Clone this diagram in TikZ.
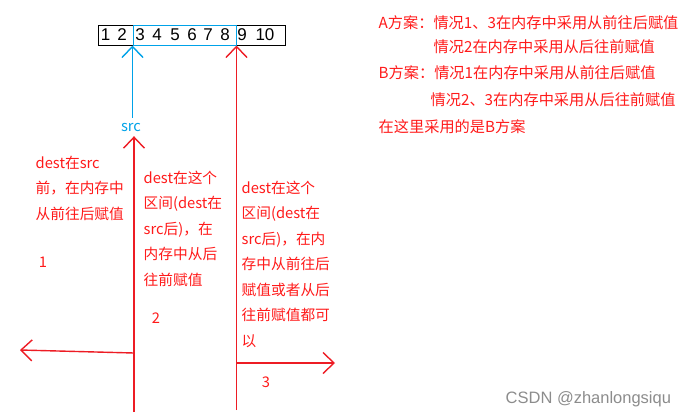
\documentclass[tikz,border=0pt]{standalone}
\usepackage{fontspec}
\setmainfont{Noto Sans CJK SC}
\newfontfamily\digitfont{Liberation Sans}
\usetikzlibrary{arrows.meta}
\definecolor{paintred}{HTML}{ED1C24}
\definecolor{paintblue}{HTML}{00A2E8}
\definecolor{notered}{HTML}{FF1A1A}
\definecolor{markgray}{HTML}{8C8C8C}

\begin{document}
\begin{tikzpicture}[x=1pt,y=-1pt,>={Straight Barb[length=11pt,width=21pt]},line width=1.4pt]

    \tikzstyle{cell}=[inner sep=0pt,font=\digitfont\fontsize{17}{17}\selectfont]
    \tikzstyle{frame}=[draw=black,line width=1pt,minimum width=187pt,minimum height=20pt,inner sep=0pt]
    \tikzstyle{window}=[draw=paintblue,line width=1pt,minimum width=103pt,minimum height=20pt,inner sep=0pt]
    \tikzstyle{note}=[anchor=north west,align=left,inner sep=0pt,text=notered,font=\fontsize{14.7}{25.5}\selectfont]
    \tikzstyle{plan}=[anchor=west,inner sep=0pt,text=notered,font=\fontsize{15.2}{25.5}\selectfont]
    \tikzstyle{casenum}=[inner sep=0pt,text=notered,font=\fontsize{14.7}{14.7}\selectfont]
    \tikzstyle{redline}=[draw=paintred]
    \tikzstyle{blueline}=[draw=paintblue]

    \useasboundingbox (0,0) rectangle (689,418);

    % the array 1..10, with the src window 3..8
    \node [frame] (arr) at (191.5,35) {};
    \node [window] (win) at (184.5,35) {};
    \foreach \x/\n in {105.7/1,122/2,140/3,157/4,175/5,192/6,208/7,225/8,242/9,265/10}
        \node [cell] (c\n) at (\x,35) {\n};

    \node [casenum,text=paintblue,outer sep=5pt] (src) at (131,127) {src};
    \draw [blueline,->] (win.south west |- src.north) -- (win.south west);

    % the two borders of the cases
    \coordinate (foot2) at (134,412);
    \coordinate (foot3) at (236.5,410);
    \draw [redline,->] (foot2) -- (foot2 |- src.south);
    \draw [redline,->] (foot3) -- (win.south east);

    \coordinate (fork1) at (134,353);
    \coordinate (end1) at (20,350);
    \coordinate (fork3) at (237,363);
    \coordinate (end3) at (335,363);
    \draw [redline,->] (fork1) -- (end1);
    \draw [redline,->] (fork3) -- (end3);

    % cases
    \node [note] (case1) at (35,155) {dest在src\\前，在内存中\\从前往后赋值};
    \node [casenum] (num1) at (43,262) {1};
    \node [note] (case2) at (143,170) {dest在这个\\区间(dest在\\src后)，在\\内存中从后\\往前赋值};
    \node [casenum] (num2) at (156,318) {2};
    \node [note] (case3) at (241,180) {dest在这个\\区间(dest在\\src后)，在内\\存中从前往后\\赋值或者从后\\往前赋值都可\\以};
    \node [casenum] (num3) at (266,382) {3};

    % plans
    \node [plan] (planA) at (378,23) {A方案：情况1、3在内存中采用从前往后赋值};
    \node [plan] (planAb) at (433,47) {情况2在内存中采用从后往前赋值};
    \node [plan] (planB) at (378,73) {B方案：情况1在内存中采用从前往后赋值};
    \node [plan] (planBb) at (430,100) {情况2、3在内存中采用从后往前赋值};
    \node [plan] (choice) at (378,127) {在这里采用的是B方案};

    \node [anchor=west,inner sep=0pt,text=markgray,font=\digitfont\fontsize{16.5}{16.5}\selectfont] (mark) at (505,399) {CSDN @zhanlongsiqu};
\end{tikzpicture}
\end{document}
